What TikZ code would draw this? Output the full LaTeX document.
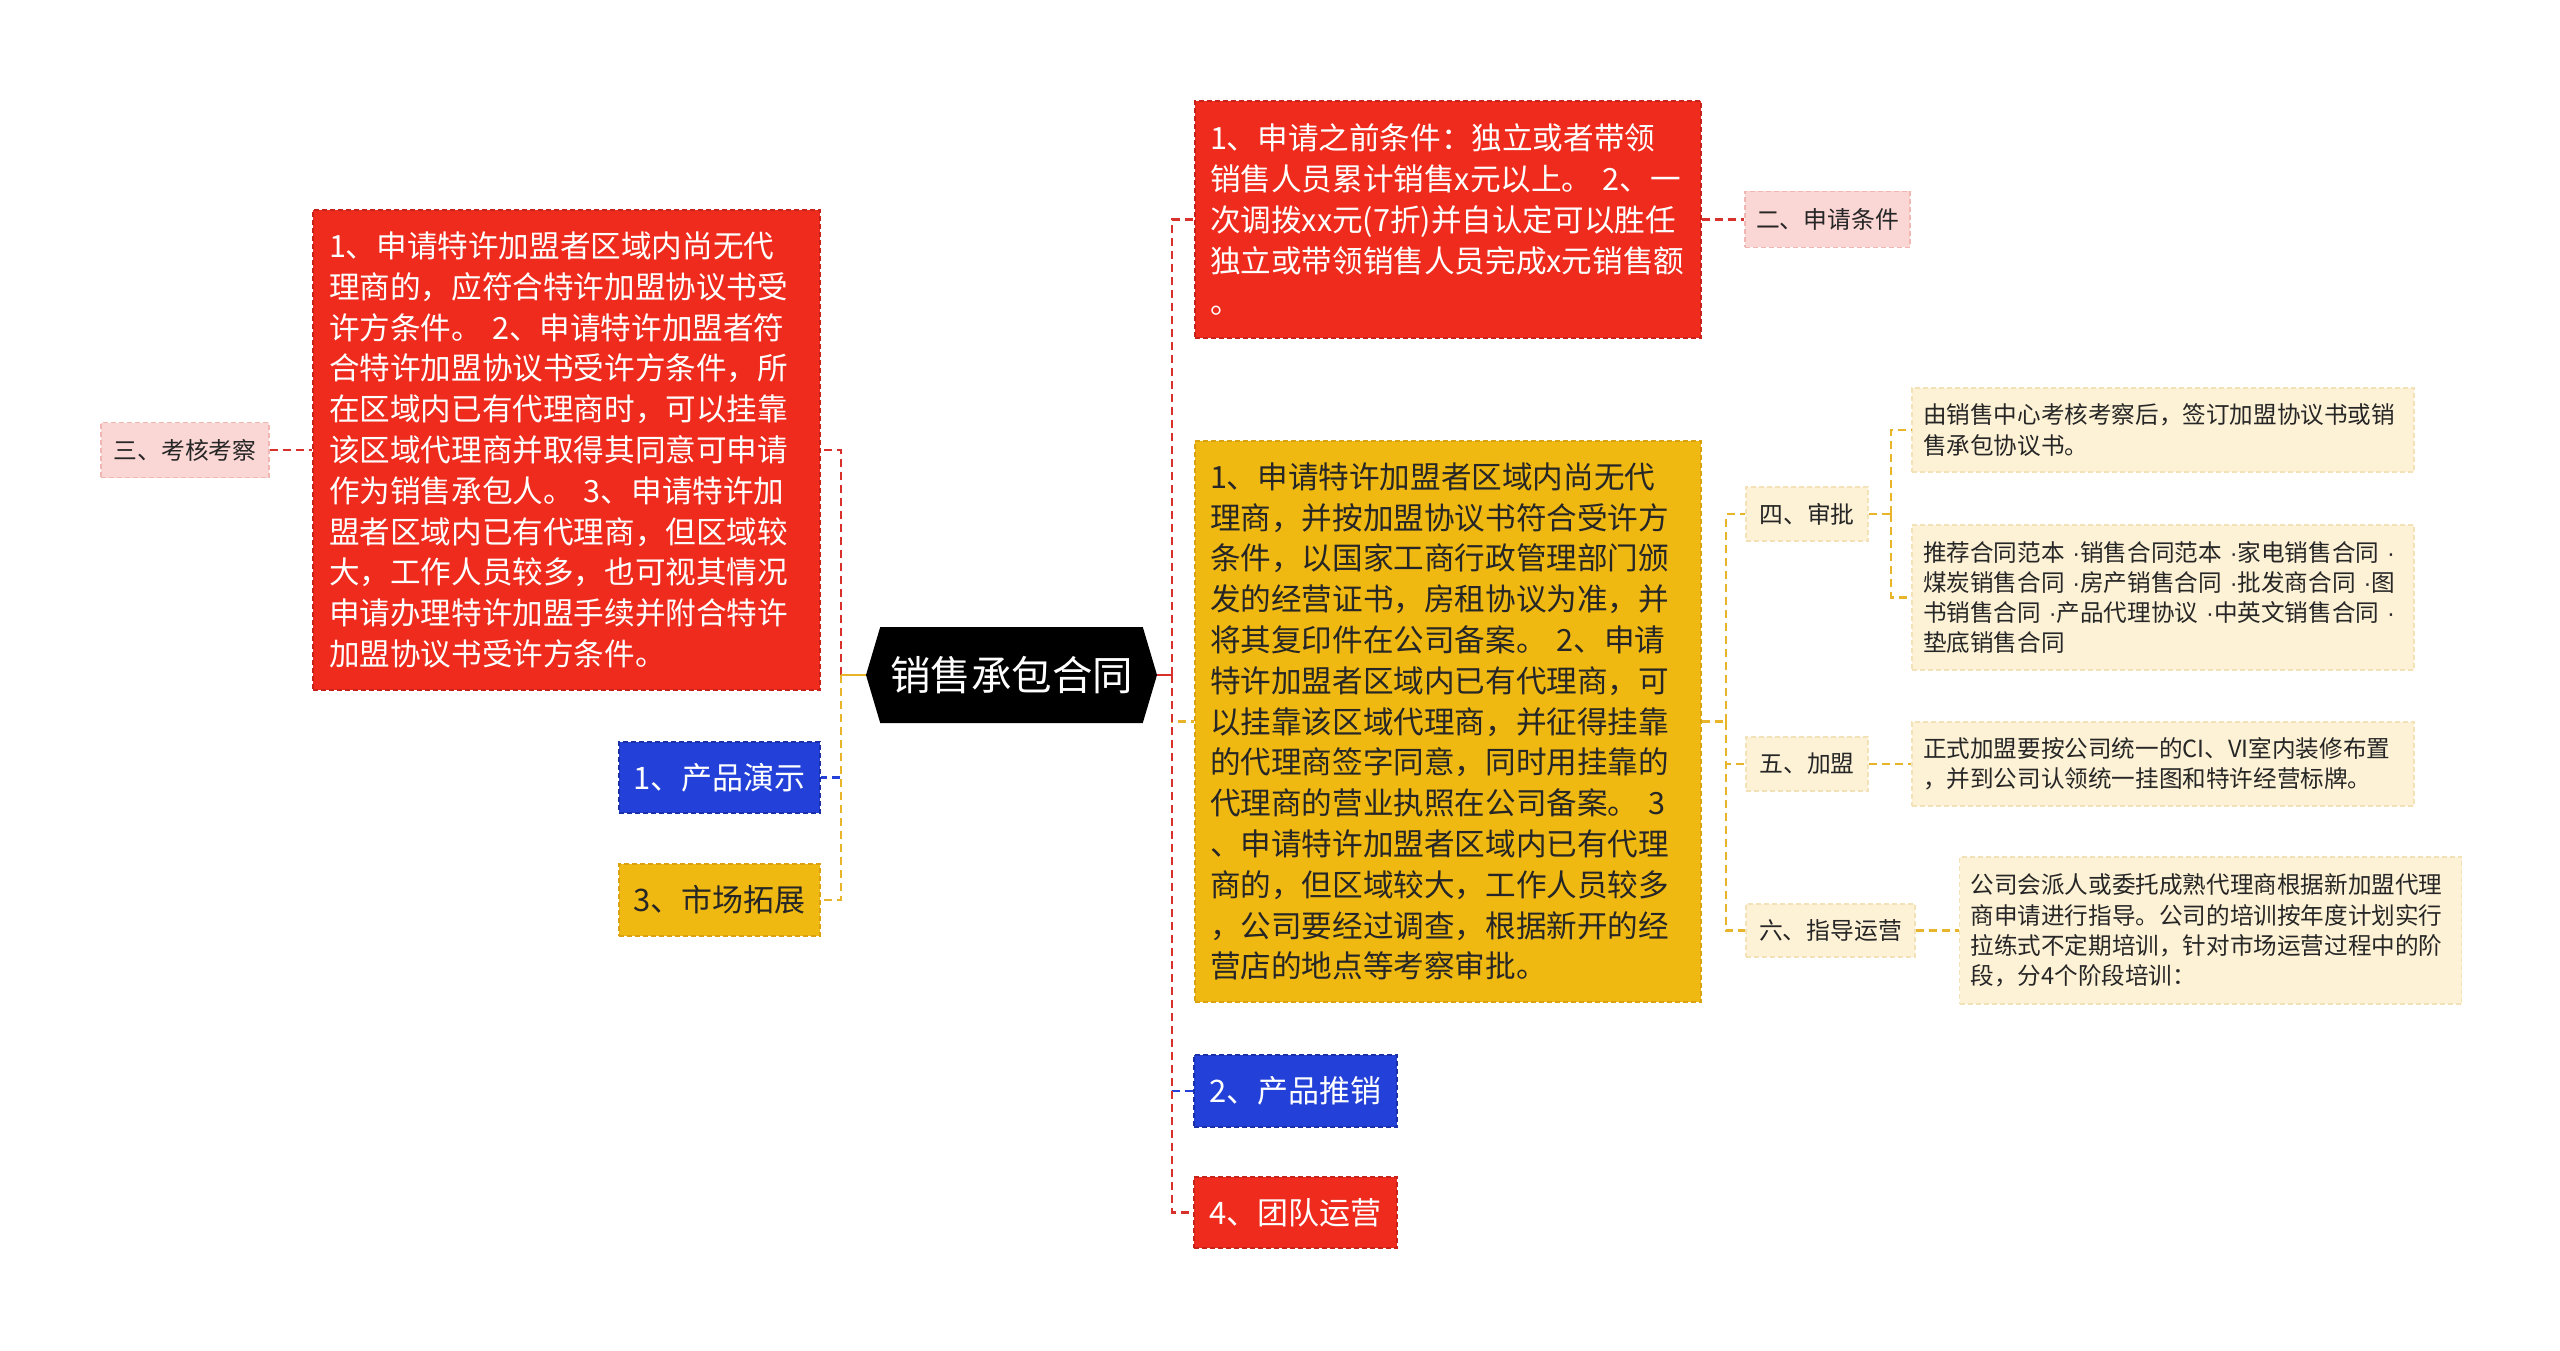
\documentclass[tikz,border=0pt]{standalone}
\usepackage{fontspec}
\setmainfont{Noto Sans CJK SC}
\newfontfamily\dotfont{Liberation Sans}
\newcommand{\md}{{\dotfont ·}}
\usetikzlibrary{shapes.symbols}
\definecolor{cRed}{HTML}{EF2B1D}
\definecolor{cRedD}{HTML}{C8231A}
\definecolor{cBlue}{HTML}{2340D9}
\definecolor{cBlueD}{HTML}{1A30A8}
\definecolor{cYel}{HTML}{F0B912}
\definecolor{cYelD}{HTML}{D9A20E}
\definecolor{cPink}{HTML}{FAD6D4}
\definecolor{cPinkD}{HTML}{F0B6B2}
\definecolor{cCream}{HTML}{FDF2D6}
\definecolor{cCreamD}{HTML}{F3E2B8}
\definecolor{cText}{HTML}{262626}
\definecolor{lRed}{HTML}{D8302A}
\definecolor{lYel}{HTML}{E8B42A}
\definecolor{lBlue}{HTML}{2340D9}
\tikzset{
  box/.style={rectangle, inner sep=0pt, line width=1.2pt, dash pattern=on 5pt off 3pt},
  redbox/.style={box, fill=cRed, draw=cRedD, text=white},
  bluebox/.style={box, fill=cBlue, draw=cBlueD, text=white},
  yelbox/.style={box, fill=cYel, draw=cYelD, text=cText},
  pinkbox/.style={box, fill=cPink, draw=cPinkD, text=cText},
  creambox/.style={box, fill=cCream, draw=cCreamD, text=cText},
  bigtext/.style={font=\fontsize{30.6}{40.8}\selectfont, align=left},
  midtext/.style={font=\fontsize{31}{38}\selectfont},
  smalltext/.style={font=\fontsize{23.8}{30.2}\selectfont},
  creamtext/.style={font=\fontsize{23.6}{30.2}\selectfont, align=left, text width=480pt, inner xsep=11pt},
  rline/.style={draw=lRed, line width=2.6pt},
  yline/.style={draw=lYel, line width=2.6pt},
  bline/.style={draw=lBlue, line width=2.6pt},
  thinline/.style={line width=2.2pt},
  dline/.style={dash pattern=on 8pt off 5pt}
}
\begin{document}
\begin{tikzpicture}[x=1pt,y=-1pt]
\useasboundingbox[fill=white] (0,0) rectangle (2560,1351);

% central
\node[signal, signal to=west and east, signal pointer angle=147, fill=black, text=white,
      minimum width=291pt, minimum height=96pt, inner sep=0pt,
      font=\fontsize{40.5}{48}\selectfont] (c) at (1011.5,675) {销售承包合同};

% left side
\node[redbox, bigtext, text width=475pt, inner xsep=16pt, minimum height=480pt] (L) at (566.5,450)
{1、申请特许加盟者区域内尚无代\\理商的，应符合特许加盟协议书受\\许方条件。 2、申请特许加盟者符\\合特许加盟协议书受许方条件，所\\在区域内已有代理商时，可以挂靠\\该区域代理商并取得其同意可申请\\作为销售承包人。 3、申请特许加\\盟者区域内已有代理商，但区域较\\大，工作人员较多，也可视其情况\\申请办理特许加盟手续并附合特许\\加盟协议书受许方条件。};
\node[pinkbox, smalltext, minimum width=168pt, minimum height=55pt] (P3) at (185,450) {三、考核考察};
\node[bluebox, midtext, minimum width=201pt, minimum height=71pt] (B1) at (719.5,777.5) {1、产品演示};
\node[yelbox, midtext, minimum width=201pt, minimum height=72pt] (Y3) at (719.5,900) {3、市场拓展};

% right side
\node[redbox, bigtext, text width=476pt, inner xsep=15pt, minimum height=237pt] (R1) at (1448,219.5)
{1、申请之前条件：独立或者带领\\销售人员累计销售x元以上。 2、一\\次调拨xx元(7折)并自认定可以胜任\\独立或带领销售人员完成x元销售额\\。};
\node[pinkbox, smalltext, minimum width=165pt, minimum height=56pt] (P2) at (1827.5,219.5) {二、申请条件};
\node[yelbox, bigtext, text width=476pt, inner xsep=15pt, minimum height=561pt] (Y) at (1448,721.5)
{1、申请特许加盟者区域内尚无代\\理商，并按加盟协议书符合受许方\\条件，以国家工商行政管理部门颁\\发的经营证书，房租协议为准，并\\将其复印件在公司备案。 2、申请\\特许加盟者区域内已有代理商，可\\以挂靠该区域代理商，并征得挂靠\\的代理商签字同意，同时用挂靠的\\代理商的营业执照在公司备案。 3\\、申请特许加盟者区域内已有代理\\商的，但区域较大，工作人员较多\\，公司要经过调查，根据新开的经\\营店的地点等考察审批。};
\node[bluebox, midtext, minimum width=203pt, minimum height=72pt] (B2) at (1295.5,1091) {2、产品推销};
\node[redbox, midtext, minimum width=203pt, minimum height=71pt] (R4) at (1295.5,1212.5) {4、团队运营};

\node[pinkbox, fill=cCream, draw=cCreamD, smalltext, minimum width=122pt, minimum height=54pt] (S4) at (1807,514) {四、审批};
\node[pinkbox, fill=cCream, draw=cCreamD, smalltext, minimum width=122pt, minimum height=54pt] (S5) at (1807,764) {五、加盟};
\node[pinkbox, fill=cCream, draw=cCreamD, smalltext, minimum width=169pt, minimum height=53pt] (S6) at (1830.5,930.5) {六、指导运营};

\node[creambox, creamtext, minimum height=84pt] (C1) at (2163,430)
{由销售中心考核考察后，签订加盟协议书或销\\售承包协议书。};
\node[creambox, creamtext, minimum height=145pt] (C2) at (2163,597.5)
{\mbox{推荐合同范本 \md{}销售合同范本 \md{}家电销售合同 \md{}}\\\mbox{煤炭销售合同 \md{}房产销售合同 \md{}批发商合同 \md{}图}\\\mbox{书销售合同 \md{}产品代理协议 \md{}中英文销售合同 \md{}}\\垫底销售合同};
\node[creambox, creamtext, minimum height=84pt] (C3) at (2163,764)
{正式加盟要按公司统一的CI、VI室内装修布置\\，并到公司认领统一挂图和特许经营标牌。};
\node[creambox, creamtext, minimum height=147pt] (C4) at (2210.5,930.5)
{公司会派人或委托成熟代理商根据新加盟代理\\商申请进行指导。公司的培训按年度计划实行\\拉练式不定期培训，针对市场运营过程中的阶\\段，分4个阶段培训：};

% connectors left
\coordinate (lt) at (841,675);
\draw[rline,dline] (lt) |- (L.east);
\draw[bline,dline] (lt) |- (B1.east);
\draw[yline,dline] (lt) |- (Y3.east);
\draw[yline] (c.west) -- (lt);
\draw[rline,thinline,dline] (P3.east) -- (L.west);

% connectors right
\coordinate (rt) at (1172,675);
\draw[yline,dline] (rt) |- (Y.west);
\draw[bline,dline] (rt) |- (B2.west);
\draw[rline,dline] (rt) |- (R1.west);
\draw[rline,dline] (rt) |- (R4.west);
\draw[rline] (c.east) -- (rt);
\draw[rline,thinline,dline] (R1.east) -- (P2.west);

\coordinate (yt) at (1726,721.5);
\draw[yline,thinline,dline] (Y.east) -- (yt);
\draw[yline,thinline,dline] (yt) |- (S4.west);
\draw[yline,thinline,dline] (yt) |- (S5.west);
\draw[yline,thinline,dline] (yt) |- (S6.west);
\coordinate (st) at (1891,514);
\draw[yline,thinline,dline] (S4.east) -- (st);
\draw[yline,thinline,dline] (st) |- (C1.west);
\draw[yline,thinline,dline] (st) |- (C2.west);
\draw[yline,thinline,dline] (S5.east) -- (C3.west);
\draw[yline,thinline,dline] (S6.east) -- (C4.west);
\end{tikzpicture}
\end{document}
